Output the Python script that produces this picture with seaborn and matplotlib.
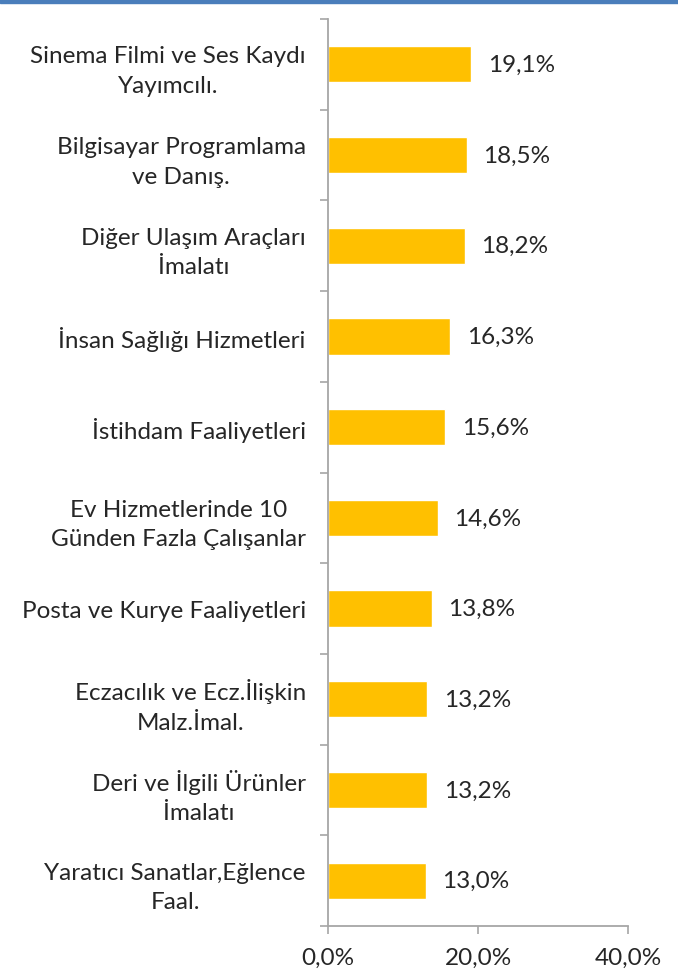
import numpy as np
import pandas as pd
import seaborn as sns
import matplotlib.pyplot as plt
from matplotlib.patches import Rectangle

# data
sectors = ["Sinema Filmi ve Ses Kaydı\nYayımcılı.",
           "Bilgisayar Programlama\nve Danış.",
           "Diğer Ulaşım Araçları\nİmalatı",
           "İnsan Sağlığı Hizmetleri",
           "İstihdam Faaliyetleri",
           "Ev Hizmetlerinde 10\nGünden Fazla Çalışanlar",
           "Posta ve Kurye Faaliyetleri",
           "Eczacılık ve Ecz.İlişkin\nMalz.İmal.",
           "Deri ve İlgili Ürünler\nİmalatı",
           "Yaratıcı Sanatlar,Eğlence\nFaal."]
shares = [19.1, 18.5, 18.2, 16.3, 15.6, 14.6, 13.8, 13.2, 13.2, 13.0]
xticks = [0, 20, 40]
xtick_labels = ["0,0%", "20,0%", "40,0%"]

df = pd.DataFrame({"sector": sectors, "share": shares})

sns.set_style("white")
plt.rcParams['font.family'] = ['Lato', 'DejaVu Sans']
fs = 17.5

fig = plt.figure(figsize=(6.78, 9.78), dpi=100)
ax = fig.add_axes([328/678, 1 - 927/978, 300/678, 907/978])

sns.barplot(data=df, x="share", y="sector", orient="h", color="#FFC000",
            saturation=1, width=0.4, ax=ax)

ax.set_xlim(0, 40)
ax.set_ylim(len(sectors) - 0.5, -0.5)
ax.set_xlabel("")
ax.set_ylabel("")

# value labels
for i, v in enumerate(shares):
    ax.annotate(f"{v:.1f}".replace(".", ",") + "%", (v, i), xytext=(12, 0),
                textcoords="offset points", va="center", ha="left", fontsize=fs)

# category boundaries as ticks, names in the middle
ax.set_yticks(np.arange(-0.5, len(sectors), 1))
ax.set_yticklabels([])
ax.set_yticks(np.arange(len(sectors)), minor=True)
ax.set_yticklabels(sectors, minor=True, fontsize=fs, multialignment="center",
                   linespacing=1.5)
ax.tick_params(axis="y", which="major", direction="out", length=6,
               width=1.2, color="#A6A6A6", left=True)
ax.tick_params(axis="y", which="minor", length=0, pad=16, left=False)

ax.set_xticks(xticks)
ax.set_xticklabels(xtick_labels, fontsize=fs)
ax.tick_params(axis="x", direction="out", length=6, width=1.2,
               color="#A6A6A6", bottom=True, pad=9)

for s in ["top", "right"]:
    ax.spines[s].set_visible(False)
for s in ["left", "bottom"]:
    ax.spines[s].set_color("#A6A6A6")
    ax.spines[s].set_linewidth(1.3)

# blue band on top edge
fig.patches.append(Rectangle((0, 1 - 4/978), 1, 4/978, transform=fig.transFigure,
                             color="#4A7EBB", zorder=5))

fig.savefig("out.png", dpi=100)
